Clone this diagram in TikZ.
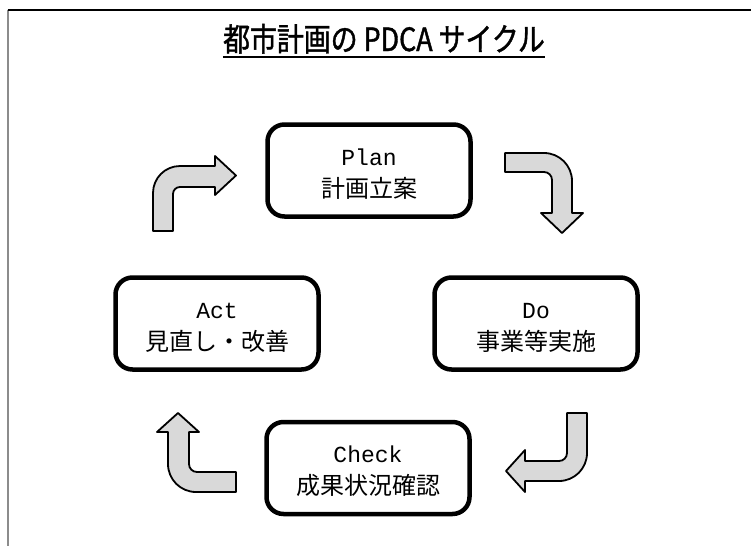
\documentclass[tikz,border=0pt]{standalone}
\usepackage{fontspec}
\newfontfamily\jpfont{Noto Sans CJK JP}
\newfontfamily\titlefont[FakeStretch=0.84,FakeBold=1.3]{Noto Sans CJK JP}
\newfontfamily\latfont{Liberation Mono}
\newcommand\firstline[1]{\rule{0pt}{24pt}{\latfont\fontsize{23}{23}\selectfont #1}}
\begin{document}
\begin{tikzpicture}[x=1pt,y=-1pt,
  stagebox/.style={draw=black, line width=4.5pt, rounded corners=17pt, fill=white,
    minimum width=203pt, minimum height=92pt, inner sep=0pt, align=center,
    font=\fontsize{24}{32}\selectfont},
  blockarrow/.style={draw=black, fill=black!15, line width=1.8pt, line join=round},
]
\useasboundingbox (0,0) rectangle (751,546);
\fill[white] (0,0) rectangle (751,546);
% frame
\draw[black!45, line width=2pt] (8,10) -- (8,546);
\draw[black, line width=1.2pt] (7.5,10) -- (751,10);
% title
\node[inner sep=0pt, anchor=base, font=\titlefont\fontsize{32}{32}\selectfont] (title) at (384,51) {都市計画の PDCA サイクル};
\draw[line width=2.6pt] ([yshift=-6pt]title.base west) -- ([yshift=-6pt]title.base east);
% stage boxes
\node[stagebox] (plan) at (369,170.5) {\firstline{Plan}\\{\jpfont 計画立案}};
\node[stagebox] (do) at (536,323.5) {\firstline{Do}\\{\jpfont 事業等実施}};
\node[stagebox] (check) at (368,468) {\firstline{Check}\\{\jpfont 成果状況確認}};
\node[stagebox] (act) at (217,323.5) {\firstline{Act}\\{\jpfont 見直し・改善}};
% block arrows
% Act -> Plan
\draw[blockarrow] (153,231) -- (153,193) arc[start angle=180,end angle=90,radius=27pt]
  -- (215,166) -- (215,156) -- (236,175.5) -- (215,195) -- (215,187) -- (180,187)
  arc[start angle=90,end angle=180,radius=7pt] -- (173,231) -- cycle;
% Plan -> Do
\draw[blockarrow] (505,153) -- (544,153) arc[start angle=90,end angle=0,radius=28pt]
  -- (572,213) -- (583,213) -- (562,233) -- (541,213) -- (552,213) -- (552,180)
  arc[start angle=0,end angle=90,radius=8pt] -- (505,172) -- cycle;
% Do -> Check
\draw[blockarrow] (567,413) -- (587,413) -- (587,453) arc[start angle=0,end angle=-90,radius=28pt]
  -- (525,481) -- (525,492) -- (506,471) -- (525,450) -- (525,461) -- (559,461)
  arc[start angle=-90,end angle=0,radius=8pt] -- cycle;
% Check -> Act
\draw[blockarrow] (178,413) -- (199,432) -- (189,432) -- (189,464)
  arc[start angle=180,end angle=270,radius=8pt] -- (236,472) -- (236,492) -- (196,492)
  arc[start angle=270,end angle=180,radius=28pt] -- (168,432) -- (157,432) -- cycle;
\end{tikzpicture}
\end{document}
